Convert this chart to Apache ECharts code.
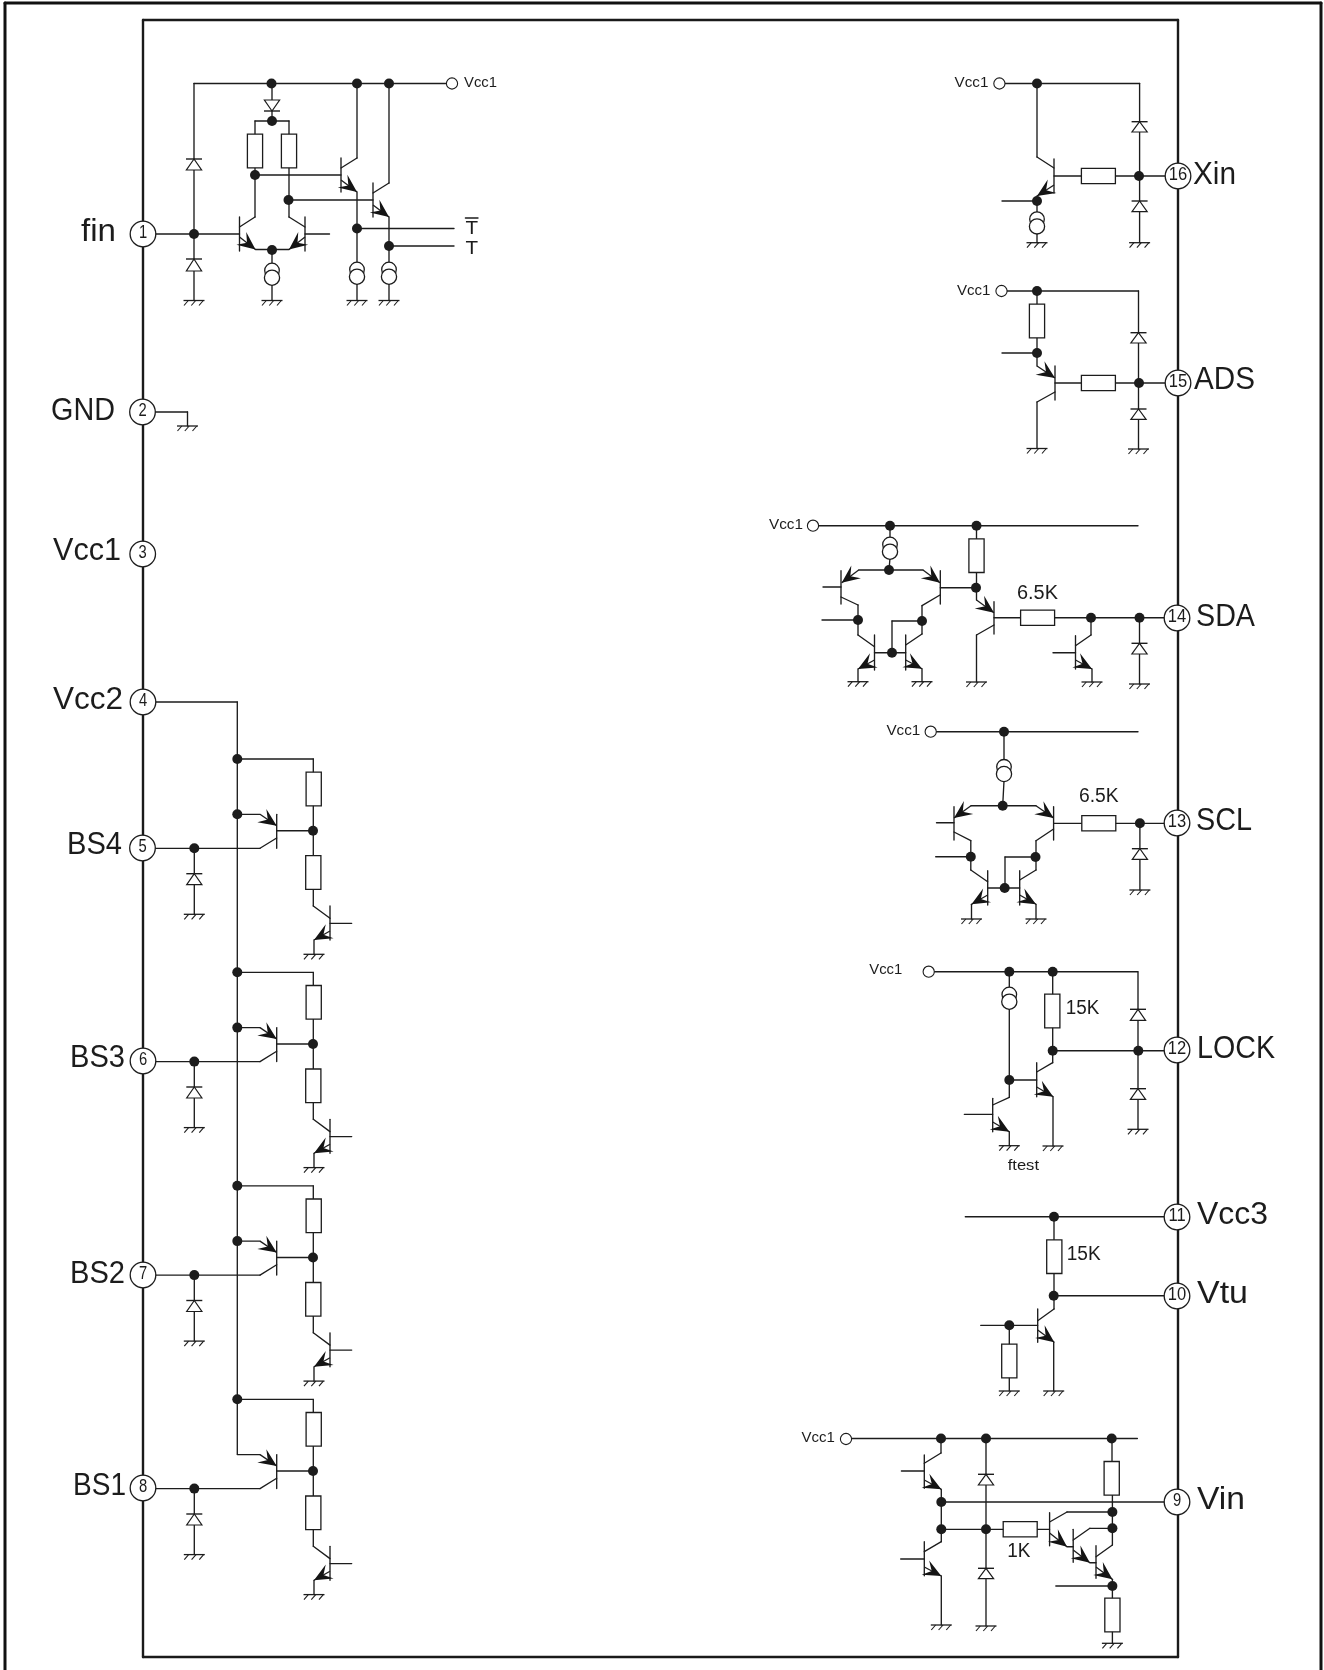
<!DOCTYPE html>
<html>
<head>
<meta charset="utf-8">
<style>html,body{margin:0;padding:0;background:#fff}#c{width:1324px;height:1670px}</style>
<script src="https://cdn.jsdelivr.net/npm/echarts@6/dist/echarts.min.js"></script>
</head>
<body>
<div id="c"></div>
<script>
// ---- Text content ----
const pinNumbers = ['1','2','3','4','5','6','7','8','9','10','11','12','13','14','15','16'];
const pinNames   = ['fin','GND','Vcc1','Vcc2','BS4','BS3','BS2','BS1','Vin','Vtu','Vcc3','LOCK','SCL','SDA','ADS','Xin'];
const smallTexts = ['Vcc1','Vcc1','Vcc1','Vcc1','Vcc1','Vcc1','Vcc1','T','T','6.5K','6.5K','15K','15K','1K','ftest'];

// ---- Pin centres [x, y] ----
const pinCenters = [[143,234],[142.5,412],[142.7,554],[143,702],[142.5,848],[143,1061],[143,1275],[143,1488],
  [1177,1502],[1177,1296],[1177,1217],[1177,1050],[1177,823],[1177,618],[1178,383],[1178,176]];
// label extents [left, right, centreY, fontSize]
const pinNameSpots = [[81,116,232,32],[51,115,411,31],[53,121,551,31],[53,123,700.5,31],[67,122,845.5,31],[70,125,1058.7,31],[70,125,1274,31],[73,126,1486,31],
  [1197,1245,1500,31],[1197,1248,1294,31],[1197,1268,1215,31],[1197,1275,1049,31],[1196,1252,821,31],[1196,1255,617,31],[1194,1255,380,31],[1193,1236,175,31]];
const smallSpots = [[464,497,82.5,15],[954.6,988.4,82.5,15],[957,990.5,290.5,15],[769,803,524.5,15],[886.4,920.3,730.5,15],[869.3,902.3,969.5,15],[801.5,834.8,1438,15],
  [465.4,478,228.5,19],[465.4,478,248.5,19],[1017,1058,593.7,20],[1079,1118.7,796,20],[1065.7,1099.3,1008.7,20],[1066.7,1100.7,1254.3,20],[1007.3,1030.5,1551,20],[1007.7,1039,1166,15]];

// ---- Page frame polylines ----
const outerFrame = [[5,1670,5,3,1321,3,1321,1670]];
const innerFrame = [[143,20,1178,20,1178,1657,143,1657,143,20]];

// ---- Wires by block (polylines x,y,x,y...) ----
const finWires = [
 [194,83.5,446,83.5],[194,83.5,194,300.5],[272,83.5,272,100],[272,111,272,121],
 [255,134,255,121,289,121,289,134],[255,168,255,217,239.5,227],[289,168,289,217,305,227],
 [239.5,217,239.5,251],[305,217,305,251],[155,234,239.5,234],[305,234,329.5,234],
 [255.5,249.5,289,249.5],[272,250,272,263],[272,285,272,300.5],
 [255,175,341,175],[341,158,341,192],[341,168,357,158,357,83.5],[357,192,357,262],[357,284,357,300.5],[357,228.5,454,228.5],
 [288.5,200,373,200],[373,183,373,217],[373,193,389,183,389,83.5],[389,217,389,262],[389,284,389,300.5],[389,246,454,246],
 [465.4,218,478,218],
 [155,412,187.5,412,187.5,426]
];
const xinWires = [
 [1005,83.5,1139.6,83.5],[1037,83.5,1037,157,1054,168],[1054,159,1054,193],[1037,196,1037,212],[1002,201,1037,201],[1037,233,1037,242.7],
 [1054,176,1165,176],[1139.6,83.5,1139.6,242.7]
];
const adsWires = [
 [1007,291,1138.5,291],[1037,291,1037,304],[1037,338,1037,366],[1002,353,1037,353],[1055,366,1055,400],
 [1055,392,1037,402,1037,448.5],[1055,383,1165,383],[1138.5,291,1138.5,449]
];
const sdaWires = [
 [819,525.7,1138,525.7],[890,525.7,890,537],[890,558,889,570],[858.7,570,923,570],
 [841,570.7,841,604],[823,587,841,587],[841,597,858,605,858,635,874.5,646.7],[822,620,858,620],
 [874.5,635,874.5,670],[874.5,652.7,905.7,652.7],[892,652.7,892,621,922,621],[858,669,858,681.7],
 [905.7,635,905.7,670],[922,668.7,922,681.7],[905.7,645,922,634,922,605.7,940,595],
 [940.3,570.7,940.3,604],[940.3,587.7,976,587.7],[976.5,525.7,976.5,600],
 [994,601.7,994,634],[994,625,976.5,635,976.5,682],[994,617.7,1165,617.7],
 [1091,617.7,1091,635,1075.5,645.7],[1075.5,635.7,1075.5,669],[1053,652.7,1075.5,652.7],[1092,669,1092,682],
 [1139.5,617.7,1139.5,684]
];
const sclWires = [
 [936.5,731.7,1138,731.7],[1004,731.7,1004,759.3],[1004,781,1002.7,805.7],[971,805.7,1036,805.7],
 [954,806.7,954,840],[936.5,822.7,954,822.7],[954,832,970.8,840.7,970.8,870,987.7,881.7],[935.7,856.7,970.8,856.7],
 [987.7,870.7,987.7,905],[987.7,888,1019.7,888],[1005,888,1005,857,1035.5,857],[971.5,904.3,971.5,919],
 [1019.7,870.7,1019.7,905],[1036,904.3,1036,919],[1019.7,880,1036,870,1036,840.7,1053.6,829],
 [1053.6,806.7,1053.6,840],[1053.6,823.3,1165,823.3],[1139.9,823.3,1139.9,890]
];
const lockWires = [
 [934.5,971.7,1137.7,971.7],[1009.3,971.7,1009.3,987],[1009.3,1009,1009.3,1097.3,992.7,1105],[1009.3,1080,1036.7,1080],
 [1036.7,1062.7,1036.7,1096.7],[1036.7,1072,1052.7,1062.7,1052.7,971.7],[1053,1096.7,1053,1146],
 [992.7,1098.3,992.7,1131.7],[964.3,1114.3,992.7,1114.3],[1009.3,1131.7,1009.3,1145.7],
 [1052.7,1050.7,1165,1050.7],[1138,971.7,1138,1129.3]
];
const vtuWires = [
 [965.3,1216.7,1165,1216.7],[1054,1216.7,1054,1309,1037.7,1320.7],[1054,1295.7,1165,1295.7],
 [1037.7,1309,1037.7,1342.3],[980.7,1325.3,1037.7,1325.3],[1009.3,1325.3,1009.3,1391],[1053.7,1342.3,1053.7,1391]
];
const vinWires = [
 [851.5,1438.5,1137.4,1438.5],[941,1438.5,941,1453,924.3,1463.3],[924.3,1455,924.3,1488.3],[901.4,1471,924.3,1471],
 [941.3,1489.3,941.3,1541.7,924.3,1551.7],[924.3,1541.7,924.3,1575.7],[900.7,1559,924.3,1559],[941.3,1576,941.3,1625],
 [941.3,1502,1165,1502],[941.3,1529.3,1049.6,1529.3],[986,1438.5,986,1626],
 [1112,1438.5,1112,1461.7],[1112.4,1495,1112.4,1545,1096,1556.7],
 [1049.6,1512.7,1049.6,1545.7],[1049.6,1522,1067,1512,1112.4,1512],[1067,1546.7,1073.2,1546.7],
 [1073.2,1529.3,1073.2,1562.3],[1073.2,1540,1089.9,1528.3,1112.4,1528.3],[1089.9,1562.7,1096,1562.7],
 [1096,1545.7,1096,1578.3],[1112.4,1579.3,1112.4,1643.3],[1055.8,1586,1112.4,1586]
];
const bsRailWires = [[155,702,237.3,702,237.3,1454.3]];

// ---- Emitter arrows [fromX, fromY, tipX, tipY] ----
const arrowSegs = [
 [239.5,237,255.5,249.5],[305,237,289,249.5],[341,180,357,192],[373,205,389,217],
 [1054,185,1037,196],[1037,366,1055,378],
 [858.7,570,841.7,582.7],[923,570,940,582.7],[874.5,660,858,669],[905.7,660,922,668.7],[976.5,600,994,612.7],[1075.5,660,1092,669],
 [971,805.7,954,818],[1036,805.7,1053.6,818],[987.7,895,971.5,904.3],[1019.7,895,1036,904.3],
 [1036.7,1087,1053.3,1096.7],[992.7,1122,1009.3,1131.7],[1037.7,1330,1054.3,1342.3],
 [924.3,1480,941.3,1489.3],[924.3,1567,941.3,1576],[1049.6,1533,1067,1546.7],[1073.2,1550,1089.9,1562.7],[1096,1567,1112.4,1579.3]
];

// ---- Components ----
const junctions = [
 [271.5,83.5],[357,83.5],[389,83.5],[272,121],[255,175],[288.5,200],[194,234],[272,250],[357,228.5],[389,246],
 [1037,83.5],[1037,201],[1139,176],[1037,291],[1037,353],[1139,383],
 [890,525.7],[976.5,525.7],[889,570],[858,620],[922,621],[892,652.7],[976,587.7],[1091,617.7],[1139.5,617.7],
 [1004,731.7],[1002.7,805.7],[970.8,856.7],[1035.5,857],[1004.7,888],[1139.9,823.3],
 [1009.3,971.7],[1052.7,971.7],[1009.3,1080],[1052.7,1050.7],[1138.3,1050.7],
 [1054,1216.7],[1053.7,1295.7],[1009.3,1325.3],
 [941,1438.5],[986,1438.5],[1111.7,1438.5],[941.3,1502],[941.3,1529.3],[986,1529.3],[1112.4,1512],[1112.4,1528.3],[1112.4,1586]
];
const openTerminals = [[452,83.5],[999.4,83.5],[1001.5,291],[813,525.7],[930.7,731.7],[928.7,971.7],[846,1439]];
// [centreX, centreY, horizontal?1:0]
const resistors = [
 [255,151,0],[289,151,0],[1098.4,176,1],[1037,321,0],[1098.4,383,1],[976.5,555.7,0],[1037.6,617.7,1],[1098.8,823.3,1],
 [1052.3,1011,0],[1054.3,1256.7,0],[1009.3,1361,0],[1111.7,1478.3,0],[1020.2,1529.3,1],[1112.4,1615,0]
];
// [x, barY, baseY]
const diodes = [
 [272,111,100],[194,159,170],[194,259,271],[1139.6,121.7,132],[1139.6,201,211.7],[1138.5,332.7,343],[1138.5,409,419.3],
 [1139.5,643.3,654],[1139.9,848.7,859.3],[1138,1009.3,1020.3],[1138,1088.7,1099.3],[986,1474.3,1485],[986,1568.3,1578.7]
];
const grounds = [
 [194,300.5],[272,300.5],[357,300.5],[389,300.5],[187.5,426],[1037,242.7],[1139.6,242.7],[1037,448.5],[1138.5,449],
 [858,681.7],[922,681.7],[976.5,682],[1092,682],[1139.5,684],[971.5,919],[1036,919],[1139.9,890],
 [1009.3,1145.7],[1053,1146],[1138,1129.3],[1009.3,1391],[1053.7,1391],[941.3,1625],[986,1626],[1112.4,1643.3]
];
// [x, topY]
const currentSources = [[272,263],[357,262],[389,262],[1037,211.7],[890,537],[1004,759.3],[1009.3,987]];

// ---- Repeating band-switch stages: y of each upper rail tap ----
const bsStageY = [759,972.3,1185.8,1399.3];
const bsWires = [], bsArrows = [], bsRes = [], bsDiodes = [], bsGrounds = [], bsDots = [];
bsStageY.forEach((T,i)=>{
  bsWires.push([237.3,T,313.3,T,313.3,T+130.3,313.3,T+147,330,T+159.3],[330,T+147,330,T+181],[330,T+164.3,351.7,T+164.3],
    [314,T+181,314,T+195.3],[276.7,T+55.3,276.7,T+89.3],[276.7,T+71.7,313,T+71.7],[237.3,T+55.3,260,T+55.3],
    [155,T+89.3,260,T+89.3,276.7,T+79],[194.3,T+89.3,194.3,T+155.3]);
  bsArrows.push([330,T+172,314,T+181],[260,T+55.3,276.7,T+66.7]);
  bsRes.push([313.7,T+30,0],[313.3,T+113.5,0]);
  bsDiodes.push([194.3,T+114.7,T+125.7]);
  bsGrounds.push([314,T+195.3],[194.3,T+155.3]);
  bsDots.push([237.3,T],[313,T+71.7],[194.3,T+89.3]);
  if(i<3) bsDots.push([237.3,T+55.3]);
});

function toSegs(polys){const out=[];polys.forEach(p=>{for(let i=0;i+3<p.length;i+=2)out.push([p[i],p[i+1],p[i+2],p[i+3]]);});return out;}
const allWires = [].concat(finWires,xinWires,adsWires,sdaWires,sclWires,lockWires,vtuWires,vinWires,bsRailWires,bsWires);
const INK='#1c1c1c';

const meas=document.createElement('canvas').getContext('2d');
const FONT='"Liberation Sans",Arial,sans-serif';
function fitScale(t,l,r,sz){meas.font=sz+'px '+FONT;return (r-l)/meas.measureText(t).width;}

function segSeries(data,width,color,z){return {type:'custom',coordinateSystem:'cartesian2d',clip:false,z:z,silent:true,
  encode:{x:[0,2],y:[1,3]},data:data,
  renderItem:(p,api)=>{const a=api.coord([api.value(0),api.value(1)]),b=api.coord([api.value(2),api.value(3)]);
    return {type:'line',shape:{x1:a[0],y1:a[1],x2:b[0],y2:b[1]},style:{stroke:color,lineWidth:width,lineCap:'round'}};}};}

function group(children){return {type:'group',children:children};}
function ln(api,x1,y1,x2,y2,w){const a=api.coord([x1,y1]),b=api.coord([x2,y2]);
  return {type:'line',shape:{x1:a[0],y1:a[1],x2:b[0],y2:b[1]},style:{stroke:INK,lineWidth:w||1.3}};}
function circ(api,x,y,r,fill,w){const a=api.coord([x,y]);
  return {type:'circle',shape:{cx:a[0],cy:a[1],r:r},style:{fill:fill,stroke:fill===INK?null:INK,lineWidth:w||1.2}};}

const option={
  animation:false,backgroundColor:'#fff',tooltip:{show:false},
  grid:{left:0,right:0,top:0,bottom:0,containLabel:false},
  xAxis:{type:'value',min:0,max:1324,show:false},
  yAxis:{type:'value',min:0,max:1670,inverse:true,show:false},
  series:[
   segSeries(toSegs(outerFrame),3,'#111',1),
   segSeries(toSegs(innerFrame),2.4,'#1a1a1a',1),
   segSeries(toSegs(allWires),1.35,INK,2),
   // resistors
   {type:'custom',clip:false,z:3,silent:true,encode:{x:0,y:1},data:resistors.concat(bsRes),
    renderItem:(p,api)=>{const x=api.value(0),y=api.value(1),h=api.value(2);const w=h?17:7.6,t=h?7.6:16.8;
      const a=api.coord([x-w,y-t]),b=api.coord([x+w,y+t]);
      return {type:'rect',shape:{x:a[0],y:a[1],width:b[0]-a[0],height:b[1]-a[1]},style:{fill:'#fff',stroke:INK,lineWidth:1.3}};}},
   // diodes
   {type:'custom',clip:false,z:3,silent:true,encode:{x:0,y:1},data:diodes.concat(bsDiodes),
    renderItem:(p,api)=>{const x=api.value(0),bar=api.value(1),base=api.value(2);
      const t=api.coord([x,bar]),l=api.coord([x-7.6,base]),r=api.coord([x+7.6,base]);
      return group([{type:'polygon',shape:{points:[t,l,r]},style:{fill:'#fff',stroke:INK,lineWidth:1.2}},ln(api,x-8,bar,x+8,bar,1.4)]);}},
   // grounds
   {type:'custom',clip:false,z:3,silent:true,encode:{x:0,y:1},data:grounds.concat(bsGrounds),
    renderItem:(p,api)=>{const x=api.value(0),y=api.value(1);
      return group([ln(api,x-10.5,y,x+10.5,y,1.3),ln(api,x-5.7,y,x-10,y+5,1.1),ln(api,x+1.7,y,x-2.7,y+5,1.1),ln(api,x+9.3,y,x+5,y+5,1.1)]);}},
   // current sources
   {type:'custom',clip:false,z:3,silent:true,encode:{x:0,y:1},data:currentSources,
    renderItem:(p,api)=>{const x=api.value(0),y=api.value(1);
      return group([circ(api,x,y+7.5,7.3,'#fff',1.3),circ(api,x,y+14.7,7.6,'#fff',1.3)]);}},
   // emitter arrows
   {type:'custom',clip:false,z:3,silent:true,encode:{x:[0,2],y:[1,3]},data:arrowSegs.concat(bsArrows),
    renderItem:(p,api)=>{const fx=api.value(0),fy=api.value(1),tx=api.value(2),ty=api.value(3);
      const d=Math.hypot(tx-fx,ty-fy),ux=(tx-fx)/d,uy=(ty-fy)/d,nx=-uy,ny=ux,L=18,W=8;
      const pts=[[tx,ty],[tx-L*ux+W*nx,ty-L*uy+W*ny],[tx-0.6*L*ux,ty-0.6*L*uy],[tx-L*ux-W*nx,ty-L*uy-W*ny]].map(q=>api.coord(q));
      return group([ln(api,fx,fy,tx,ty,1.3),{type:'polygon',shape:{points:pts},style:{fill:'#141414'}}]);}},
   // junction dots
   {type:'custom',clip:false,z:4,silent:true,encode:{x:0,y:1},data:junctions.concat(bsDots),
    renderItem:(p,api)=>circ(api,api.value(0),api.value(1),5,INK)},
   // open terminals
   {type:'custom',clip:false,z:4,silent:true,encode:{x:0,y:1},data:openTerminals,
    renderItem:(p,api)=>circ(api,api.value(0),api.value(1),5.6,'#fff',1.1)},
   // pins
   {type:'custom',clip:false,z:5,silent:true,encode:{x:0,y:1},data:pinCenters,
    renderItem:(p,api)=>{const x=api.value(0),y=api.value(1),a=api.coord([x,y-1]),t=pinNumbers[p.dataIndex];
      return group([circ(api,x,y,12.8,'#fff',1.3),
        {type:'text',x:a[0],y:a[1],scaleX:t.length>1?0.92:0.82,style:{text:t,fill:INK,fontSize:18,fontFamily:FONT,align:'center',verticalAlign:'middle'}}]);}},
   // pin names
   {type:'custom',clip:false,z:5,silent:true,encode:{x:0,y:2},data:pinNameSpots,
    renderItem:(p,api)=>{const l=api.value(0),r=api.value(1),y=api.value(2),s=api.value(3),t=pinNames[p.dataIndex],a=api.coord([l,y]);
      return {type:'text',x:a[0],y:a[1],scaleX:fitScale(t,l,r,s),style:{text:t,fill:INK,fontSize:s,fontFamily:FONT,align:'left',verticalAlign:'middle'}};}},
   // small annotations
   {type:'custom',clip:false,z:5,silent:true,encode:{x:0,y:2},data:smallSpots,
    renderItem:(p,api)=>{const l=api.value(0),r=api.value(1),y=api.value(2),s=api.value(3),t=smallTexts[p.dataIndex],a=api.coord([l,y]);
      return {type:'text',x:a[0],y:a[1],scaleX:fitScale(t,l,r,s),style:{text:t,fill:INK,fontSize:s,fontFamily:FONT,align:'left',verticalAlign:'middle'}};}}
  ]
};
const chart=echarts.init(document.getElementById('c'),null,{renderer:'canvas',width:1324,height:1670});
chart.setOption(option);
</script>
</body>
</html>
